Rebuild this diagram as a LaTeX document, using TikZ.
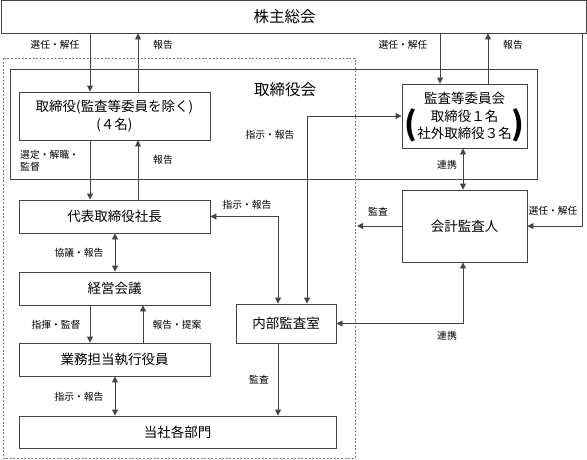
\documentclass[tikz,border=0pt]{standalone}
\usepackage{fontspec}
\setmainfont{Noto Sans CJK JP}
\usetikzlibrary{arrows.meta}
\definecolor{ln}{HTML}{444444}
\tikzset{
  box/.style={draw=ln, line width=0.9pt, fill=white, inner sep=0pt, align=center,
    font=\fontsize{13.5}{17.5}\selectfont},
  lbl/.style={font=\fontsize{9.8}{12}\selectfont, inner sep=0pt, align=left},
  arr/.style={draw=ln, line width=0.9pt, -{Triangle[length=6pt,width=6pt]}},
  darr/.style={draw=ln, line width=0.9pt, {Triangle[length=6pt,width=6pt]}-{Triangle[length=6pt,width=6pt]}},
  dashbox/.style={draw=gray, line width=0.9pt, dash pattern=on 2pt off 1.6pt},
  paren/.style={font=\fontsize{32}{32}\bfseries\selectfont, inner sep=0pt}
}
\begin{document}
\begin{tikzpicture}[x=1pt,y=-1pt]
\useasboundingbox (0,0) rectangle (587,459);
% frames
\node[draw=ln, line width=0.9pt, minimum width=527pt, minimum height=110pt, inner sep=0pt] (bod) at (273.5,124) {};
\node[font=\fontsize{15.5}{18}\selectfont, inner sep=0pt] (bodlbl) at (285,90) {取締役会};
\draw[dashbox] (3,58) rectangle (355,458);
% boxes
\node[box, minimum width=585pt, minimum height=33pt, font=\fontsize{15.5}{18}\selectfont] (gm) at (293.5,16.5) {株主総会\hspace*{18pt}};
\node[box, minimum width=191pt, minimum height=48pt] (dir) at (114.5,116) {取締役(監査等委員を除く)\\(４名)};
\node[box, minimum width=125pt, minimum height=64pt] (ac) at (464.5,116) {監査等委員会\\取締役１名\\社外取締役３名};
\node[paren, anchor=west] (lp) at (404,125) {(};
\node[paren, anchor=east] (rp) at (524,125) {)};
\node[box, minimum width=191pt, minimum height=33pt] (pres) at (114.5,216.5) {代表取締役社長};
\node[box, minimum width=191pt, minimum height=33pt] (mtg) at (114.5,288.5) {経営会議};
\node[box, minimum width=191pt, minimum height=33pt] (exe) at (114.5,359.5) {業務担当執行役員};
\node[box, minimum width=317pt, minimum height=32pt] (dept) at (177.5,432) {当社各部門};
\node[box, minimum width=100pt, minimum height=39pt] (ia) at (286,323.5) {内部監査室};
\node[box, minimum width=125pt, minimum height=72pt] (aud) at (464.5,226) {会計監査人};
% x positions
\coordinate (xa) at (90,0);
\coordinate (xb) at (138,0);
\coordinate (xc) at (115,0);
\coordinate (xd) at (143,0);
\coordinate (xe) at (278,0);
\coordinate (xf) at (307,0);
\coordinate (xg) at (440,0);
\coordinate (xh) at (488,0);
\coordinate (xi) at (463,0);
\coordinate (xj) at (582,0);
\coordinate (dr) at (357,226);
% connectors
\draw[arr] (gm.south -| xa) -- (dir.north -| xa);
\draw[arr] (dir.north -| xb) -- (gm.south -| xb);
\draw[arr] (dir.south -| xa) -- (pres.north -| xa);
\draw[arr] (pres.north -| xb) -- (dir.south -| xb);
\draw[darr] (pres.south -| xc) -- (mtg.north -| xc);
\draw[arr] (mtg.south -| xa) -- (exe.north -| xa);
\draw[arr] (exe.north -| xd) -- (mtg.south -| xd);
\draw[darr] (exe.south -| xc) -- (dept.north -| xc);
\draw[arr] (ia.south -| xe) -- (dept.north -| xe);
\draw[darr] (pres.east) -| (ia.north -| xe);
\draw[darr] (ac.west) -| (ia.north -| xf);
\draw[arr] (gm.south -| xg) -- (ac.north -| xg);
\draw[arr] (ac.north -| xh) -- (gm.south -| xh);
\draw[darr] (ac.south -| xi) -- (aud.north -| xi);
\draw[arr] (aud.west) -- (dr);
\draw[arr] (gm.south -| xj) |- (aud.east);
\draw[darr] (aud.south -| xi) |- (ia.east);
% labels
\node[lbl] (l1) at (55,45) {選任・解任};
\node[lbl] (l2) at (163,45) {報告};
\node[lbl, anchor=west] (l3) at (20,160.5) {選定・解職・\\監督};
\node[lbl] (l4) at (163,160) {報告};
\node[lbl] (l5) at (270,135) {指示・報告};
\node[lbl] (l6) at (403,45) {選任・解任};
\node[lbl] (l7) at (513,45) {報告};
\node[lbl] (l8) at (447,165) {連携};
\node[lbl] (l9) at (247,205) {指示・報告};
\node[lbl] (l10) at (79,253) {協議・報告};
\node[lbl] (l11) at (378,212) {監査};
\node[lbl] (l12) at (553,211) {選任・解任};
\node[lbl] (l13) at (56,325) {指揮・監督};
\node[lbl] (l14) at (177,325) {報告・提案};
\node[lbl] (l15) at (259,380) {監査};
\node[lbl] (l16) at (447,336) {連携};
\node[lbl] (l17) at (79,397) {指示・報告};
\end{tikzpicture}
\end{document}
